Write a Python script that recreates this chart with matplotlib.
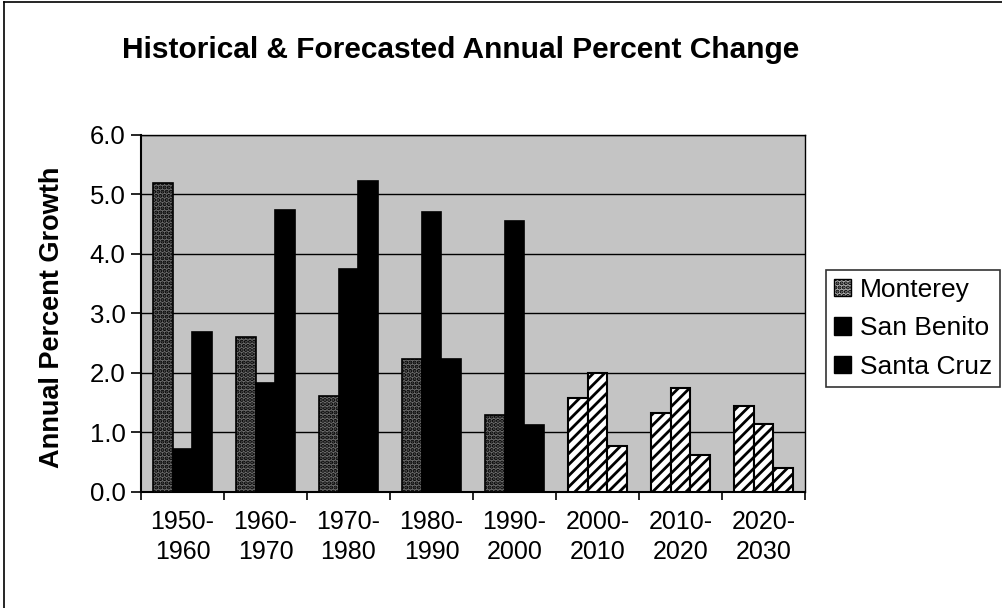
import numpy as np
import matplotlib.pyplot as plt
from matplotlib.patches import Rectangle
from matplotlib.lines import Line2D

plt.rcParams['font.family'] = ['Liberation Sans', 'DejaVu Sans']
plt.rcParams['hatch.linewidth'] = 2.0

periods = ['1950-\n1960', '1960-\n1970', '1970-\n1980', '1980-\n1990',
           '1990-\n2000', '2000-\n2010', '2010-\n2020', '2020-\n2030']
monterey = [5.2, 2.61, 1.61, 2.24, 1.29, 1.58, 1.32, 1.44]
san_benito = [0.72, 1.84, 3.75, 4.70, 4.55, 2.00, 1.75, 1.15]
santa_cruz = [2.69, 4.74, 5.23, 2.23, 1.12, 0.77, 0.63, 0.40]
n_historical = 5  # first five periods are historical, rest forecast

fig = plt.figure(figsize=(10.02, 6.08), dpi=100)
ax = fig.add_axes([0.1407, 0.1908, 0.6627, 0.5872])
ax.set_facecolor('#c4c4c4')

x = np.arange(len(periods))
w = 0.235
series = [monterey, san_benito, santa_cruz]
offsets = [-w, 0, w]

for i, (vals, off) in enumerate(zip(series, offsets)):
    for j, v in enumerate(vals):
        if j < n_historical:
            if i == 0:
                ax.bar(x[j] + off, v, w, color='#6e6e6e', edgecolor='black',
                       linewidth=1.2, hatch='....', zorder=3)
            else:
                ax.bar(x[j] + off, v, w, color='black', edgecolor='black',
                       linewidth=1.2, zorder=3)
        else:
            ax.bar(x[j] + off, v, w, color='white', edgecolor='black',
                   linewidth=1.5, hatch='///', zorder=3)

ax.set_xlim(-0.5, len(periods) - 0.5)
ax.set_ylim(0, 6)
ax.set_yticks(np.arange(0, 6.1, 1.0))
ax.set_yticklabels([f'{v:.1f}' for v in np.arange(0, 6.1, 1.0)], fontsize=18.5)
ax.yaxis.grid(True, color='black', linewidth=1.0, zorder=1)
ax.set_axisbelow(True)

ax.set_xticks(np.arange(-0.5, len(periods), 1.0))
ax.set_xticklabels([])
ax.set_xticks(x, minor=True)
ax.set_xticklabels(periods, minor=True, fontsize=18, linespacing=1.3)
ax.tick_params(axis='x', which='minor', length=0, pad=13)
ax.tick_params(axis='x', which='major', length=6, width=1.2, direction='out')
ax.tick_params(axis='y', length=7, width=1.2, direction='out', pad=4)

for s in ['left', 'bottom']:
    ax.spines[s].set_linewidth(1.5)
for s in ['top', 'right']:
    ax.spines[s].set_linewidth(1.0)

ax.set_ylabel('Annual Percent Growth', fontsize=19.5, fontweight='bold')
ax.yaxis.set_label_coords(-0.115, 0.49)
fig.text(0.46, 0.918, 'Historical & Forecasted Annual Percent Change',
         ha='center', va='center', fontsize=21.5, fontweight='bold')

handles = [Rectangle((0, 0), 1, 1, facecolor='#b0b0b0', edgecolor='black',
                     hatch='....', linewidth=1),
           Rectangle((0, 0), 1, 1, facecolor='black', edgecolor='black'),
           Rectangle((0, 0), 1, 1, facecolor='black', edgecolor='black')]
leg = fig.legend(handles, ['Monterey', 'San Benito', 'Santa Cruz'],
                 loc='upper left', bbox_to_anchor=(0.824, 0.556),
                 fontsize=19, frameon=True, fancybox=False,
                 handlelength=0.65, handleheight=0.65, handletextpad=0.35,
                 labelspacing=0.55, borderpad=0.3, borderaxespad=0)
leg.get_frame().set_edgecolor('black')
leg.get_frame().set_linewidth(1.2)

# outer chart border (left and top edges visible in the scan)
fig.add_artist(Line2D([0.004, 0.004], [0.0, 0.996], transform=fig.transFigure,
                      color='black', linewidth=1.2))
fig.add_artist(Line2D([0.004, 1.0], [0.996, 0.996], transform=fig.transFigure,
                      color='black', linewidth=1.2))

fig.savefig('out.png', dpi=100)
